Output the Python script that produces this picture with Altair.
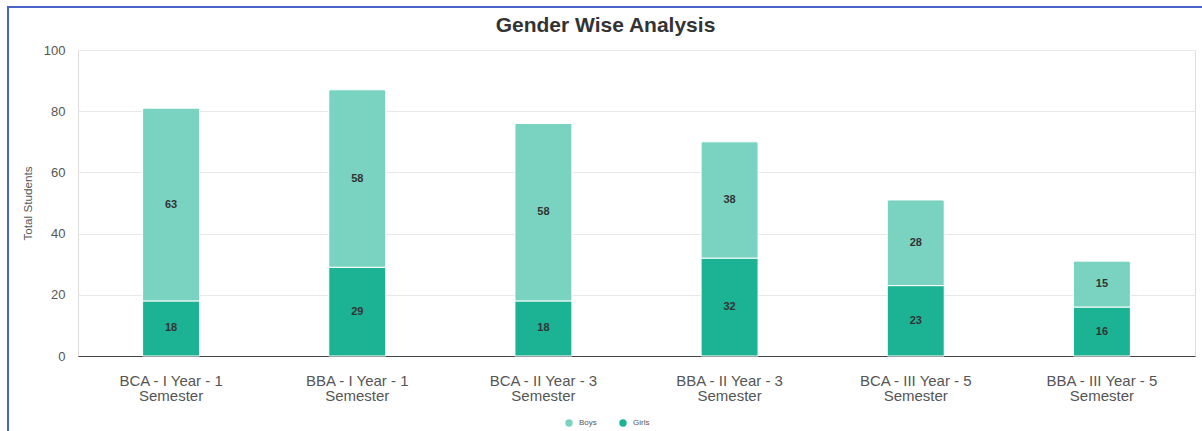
import altair as alt
import pandas as pd

# Student counts per course / semester
categories = [
    "BCA - I Year - 1 Semester",
    "BBA - I Year - 1 Semester",
    "BCA - II Year - 3 Semester",
    "BBA - II Year - 3 Semester",
    "BCA - III Year - 5 Semester",
    "BBA - III Year - 5 Semester",
]
boys = [63, 58, 58, 38, 28, 15]
girls = [18, 29, 18, 32, 23, 16]

series = ["Boys", "Girls"]
colors = ["#7ad3c0", "#1bb394"]

rows = []
for c, b, g in zip(categories, boys, girls):
    rows.append({"course": c, "gender": "Girls", "count": g, "ord": 0})
    rows.append({"course": c, "gender": "Boys", "count": b, "ord": 1})
df = pd.DataFrame(rows)

FONT = "Liberation Sans"
W, H = 1117, 306

base = alt.Chart(df).transform_stack(
    stack="count",
    groupby=["course"],
    sort=[alt.SortField("ord", order="ascending")],
    as_=["y0", "y1"],
).transform_calculate(mid="(datum.y0 + datum.y1) / 2")

x_enc = alt.X(
    "course:N",
    sort=categories,
    scale=alt.Scale(paddingInner=0.694, paddingOuter=0.347),
    axis=alt.Axis(
        title=None,
        labelAngle=0,
        labelExpr="[replace(datum.label, ' Semester', ''), 'Semester']",
        labelFontSize=15,
        labelLineHeight=15,
        labelColor="#555555",
        labelFont=FONT,
        labelPadding=17,
        ticks=False,
        domainColor="#444444",
        domainWidth=1,
        grid=False,
    ),
)
y_scale = alt.Scale(domain=[0, 100])
y_axis = alt.Axis(
    title="Total Students",
    titleFontSize=11.7,
    titleFontWeight="normal",
    titleColor="#555555",
    titleFont=FONT,
    titlePadding=10,
    values=[0, 20, 40, 60, 80, 100],
    labelFontSize=13,
    labelColor="#555555",
    labelFont=FONT,
    labelPadding=13,
    ticks=False,
    domain=False,
    gridColor="#e8e8e8",
)
color_enc = alt.Color(
    "gender:N",
    scale=alt.Scale(domain=series, range=colors),
    legend=alt.Legend(
        title=None,
        orient="none",
        direction="horizontal",
        legendX=487,
        legendY=369,
        symbolType="circle",
        symbolSize=55,
        symbolStrokeWidth=0,
        labelFontSize=8,
        labelColor="#555555",
        labelFont=FONT,
        columnPadding=22,
        labelOffset=6,
    ),
)

girls_bars = base.transform_filter("datum.gender == 'Girls'").mark_bar(
    stroke="white", strokeWidth=1
).encode(
    x=x_enc,
    y=alt.Y("y0:Q", scale=y_scale, axis=y_axis),
    y2="y1:Q",
    color=color_enc,
)

boys_bars = base.transform_filter("datum.gender == 'Boys'").mark_bar(
    stroke="white", strokeWidth=1, cornerRadiusTopLeft=2, cornerRadiusTopRight=2
).encode(
    x=alt.X("course:N", sort=categories),
    y=alt.Y("y0:Q"),
    y2="y1:Q",
    color=alt.Color("gender:N"),
)

labels = base.mark_text(
    fontSize=11, color="#333333", font=FONT, fontWeight="bold", baseline="middle"
).encode(
    x=alt.X("course:N", sort=categories),
    y=alt.Y("mid:Q"),
    text=alt.Text("count:Q"),
)

# Blue frame around the whole chart
frame = alt.Chart(pd.DataFrame({"f": [0]})).mark_rect(
    fillOpacity=0, stroke="#4a63c8", strokeWidth=2, clip=False
).encode(
    x=alt.value(-70),
    x2=alt.value(W + 50),
    y=alt.value(-43),
    y2=alt.value(H + 80),
)

chart = alt.layer(girls_bars, boys_bars, labels, frame).properties(
    width=W,
    height=H,
    title=alt.TitleParams(
        "Gender Wise Analysis",
        fontSize=21,
        font=FONT,
        fontWeight="bold",
        color="#333333",
        anchor="middle",
        frame="group",
        dx=-31,
        offset=-30,
    ),
    autosize=alt.AutoSizeParams(type="none"),
    padding={"left": 78, "top": 50, "right": 7, "bottom": 75},
).configure_view(stroke=None).configure(background="white")

chart.save("out.html", embed_options={"renderer": "svg", "actions": False})
